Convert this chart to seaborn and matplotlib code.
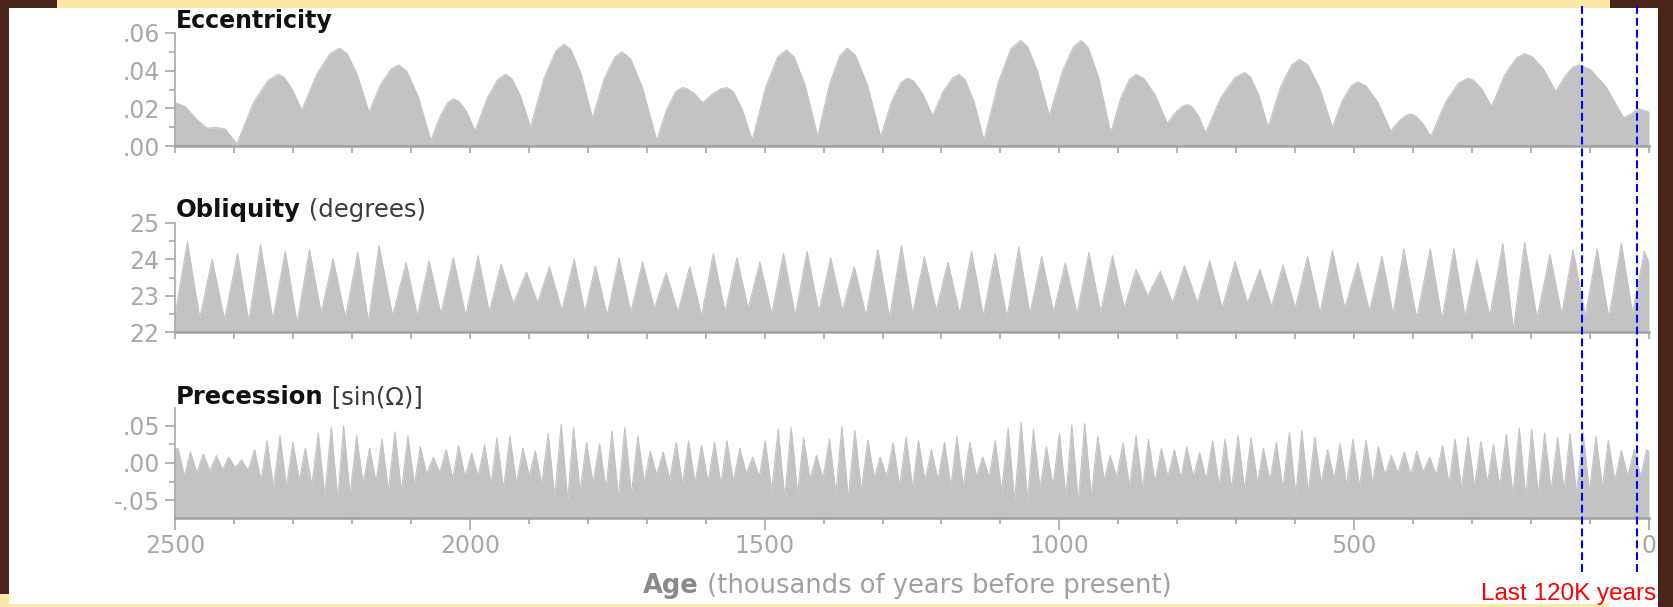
"""
Orbital cycles over the last 2.5 Myr (eccentricity, obliquity, precession)
redrawn as three stacked filled panels inside the slide frame.
"""

import matplotlib
matplotlib.use("Agg")          # no screen in the sandbox
import matplotlib.pyplot as plt
from matplotlib.patches import Rectangle
from matplotlib.ticker import MultipleLocator, FixedLocator
import pandas as pd
import seaborn as sns

# ── Canvas (pixels) ───────────────────────────────────────────────────────────
W, H, DPI = 1673, 607, 100

# ── Eccentricity (age in kyr before present, value) ──────────────────────────
ecc_age = [
    2500, 2483, 2463, 2446, 2430, 2415, 2395,
    2367, 2342, 2325, 2315, 2301, 2285,
    2259, 2237, 2221, 2208, 2191, 2171,
    2151, 2133, 2121, 2107, 2088, 2066,
    2050, 2037, 2027, 2018, 2005, 1991,
    1970, 1952, 1939, 1929, 1914, 1897,
    1874, 1854, 1840, 1828, 1811, 1792,
    1772, 1754, 1742, 1727, 1707, 1683,
    1666, 1651, 1640, 1631, 1619, 1605,
    1588, 1574, 1563, 1553, 1538, 1521,
    1498, 1478, 1463, 1450, 1431, 1410,
    1390, 1372, 1360, 1346, 1326, 1303,
    1285, 1269, 1258, 1247, 1232, 1215,
    1197, 1181, 1170, 1160, 1145, 1128,
    1103, 1082, 1066, 1054, 1037, 1017,
    995, 976, 963, 951, 933, 913,
    896, 881, 870, 857, 838, 817,
    803, 791, 783, 775, 764, 752,
    726, 702, 686, 676, 662, 646,
    625, 606, 593, 579, 559, 537,
    520, 505, 494, 480, 460, 438,
    424, 412, 404, 396, 384, 370,
    345, 323, 307, 297, 283, 267,
    245, 225, 211, 198, 179, 158,
    142, 129, 119, 100, 73, 43,
    30, 19, 10, 0,
]
ecc_val = [
    .023, .021, .014, .0095, .0098, .009, .001,
    .023, .035, .038, .0365, .030, .019,
    .0385, .049, .052, .049, .038, .018,
    .0328, .041, .043, .0398, .0266, .003,
    .016, .0232, .025, .0236, .018, .008,
    .0257, .0356, .038, .0358, .0265, .010,
    .036, .0505, .054, .0509, .038, .015,
    .0357, .0472, .050, .0462, .0307, .003,
    .0195, .0288, .031, .0304, .0277, .023,
    .0277, .0304, .031, .0288, .0195, .003,
    .0313, .0472, .051, .0473, .0321, .005,
    .0327, .0482, .052, .0482, .0327, .005,
    .0233, .0335, .036, .0344, .0278, .016,
    .029, .0362, .038, .0352, .0237, .003,
    .0343, .0518, .056, .0528, .0396, .016,
    .0396, .0528, .056, .0521, .0359, .007,
    .0253, .0355, .038, .0359, .0273, .012,
    .0179, .0212, .022, .0208, .0159, .007,
    .0259, .0364, .039, .0367, .0271, .010,
    .0312, .0431, .046, .0431, .0312, .010,
    .0242, .0321, .034, .0319, .0233, .008,
    .0133, .0163, .017, .016, .0121, .005,
    .0233, .0335, .036, .0348, .0299, .021,
    .0375, .0468, .049, .0474, .0408, .029,
    .0373, .0419, .043, .0408, .0315, .015,
    .017, .020, .019, .018,
]

# ── Obliquity (degrees): spike tops and the lows between them ────────────────
obl_peak_age = [
    2479, 2437, 2394, 2355, 2313, 2272, 2232, 2190, 2154, 2108,
    2069, 2028, 1986, 1947, 1904, 1865, 1823, 1787, 1747, 1707,
    1667, 1627, 1587, 1547, 1508, 1468, 1428, 1388, 1348, 1308,
    1268, 1229, 1189, 1149, 1109, 1069, 1030, 990, 950, 910,
    870, 829, 788, 745, 702, 660, 621, 579, 537, 494,
    453, 416, 371, 331, 292, 248, 211, 168, 129, 88,
    47, 8,
]
obl_peak = [
    24.48, 24.00, 24.16, 24.40, 24.22, 24.27, 24.02, 24.20, 24.38, 23.91,
    23.96, 24.05, 24.10, 23.87, 23.65, 23.80, 24.00, 23.82, 24.04, 23.92,
    23.63, 23.80, 24.16, 24.04, 23.92, 24.16, 24.22, 24.04, 23.80, 24.27,
    24.39, 24.07, 23.92, 24.22, 24.16, 24.33, 24.07, 23.90, 24.19, 24.10,
    23.72, 23.67, 23.83, 23.96, 23.94, 23.72, 23.85, 24.08, 24.24, 23.90,
    24.08, 24.29, 24.29, 24.29, 23.99, 24.43, 24.47, 24.13, 24.27, 24.29,
    24.45, 24.22,
]
obl_low_age = [
    2500, 2458, 2416, 2375, 2334, 2293, 2252, 2211, 2172, 2131,
    2089, 2049, 2007, 1967, 1926, 1885, 1844, 1805, 1767, 1727,
    1687, 1647, 1607, 1567, 1528, 1488, 1448, 1408, 1368, 1328,
    1288, 1249, 1209, 1169, 1129, 1089, 1050, 1010, 970, 930,
    890, 850, 808, 766, 724, 681, 640, 600, 558, 516,
    474, 434, 394, 351, 312, 270, 230, 190, 148, 108,
    68, 28, 0,
]
obl_low = [
    22.45, 22.38, 22.34, 22.29, 22.34, 22.25, 22.52, 22.40, 22.28, 22.45,
    22.45, 22.50, 22.45, 22.55, 22.78, 22.80, 22.60, 22.55, 22.45, 22.55,
    22.65, 22.55, 22.45, 22.55, 22.65, 22.50, 22.45, 22.55, 22.60, 22.45,
    22.40, 22.50, 22.60, 22.50, 22.45, 22.40, 22.50, 22.55, 22.50, 22.55,
    22.66, 23.00, 22.80, 22.80, 22.66, 22.80, 22.70, 22.66, 22.52, 22.66,
    22.57, 22.48, 22.38, 22.34, 22.43, 22.45, 22.06, 22.38, 22.48, 22.43,
    22.38, 22.52, 23.90,
]

# ── Precession index [sin(Omega)]: spike tops and notch bottoms ──────────────
prec_peak_age = [
    2495, 2474, 2452, 2430, 2409, 2387, 2365, 2344, 2322, 2300,
    2279, 2257, 2235, 2214, 2192, 2170, 2149, 2127, 2105, 2084,
    2062, 2040, 2019, 1997, 1975, 1954, 1932, 1910, 1889, 1867,
    1845, 1824, 1802, 1780, 1759, 1737, 1715, 1694, 1672, 1650,
    1629, 1607, 1585, 1564, 1542, 1520, 1499, 1477, 1455, 1434,
    1412, 1390, 1369, 1347, 1325, 1304, 1282, 1260, 1239, 1217,
    1195, 1174, 1152, 1130, 1109, 1087, 1065, 1044, 1022, 1000,
    979, 957, 935, 914, 892, 870, 849, 827, 805, 784,
    762, 740, 719, 697, 675, 654, 632, 610, 589, 567,
    545, 524, 502, 480, 459, 437, 415, 394, 372, 350,
    329, 307, 285, 264, 242, 220, 199, 177, 155, 134,
    112, 90, 69, 47, 25, 4,
]
prec_peak = [
    .020, .015, .012, .010, .008, .004, .018, .030, .036, .028,
    .020, .040, .048, .050, .037, .020, .032, .042, .036, .022,
    .008, .018, .023, .013, .024, .034, .036, .020, .016, .040,
    .052, .048, .028, .026, .043, .048, .036, .016, .015, .028,
    .030, .024, .028, .030, .020, .008, .030, .046, .048, .034,
    .010, .032, .049, .044, .031, .008, .027, .035, .030, .018,
    .028, .036, .028, .008, .030, .047, .055, .045, .022, .040,
    .051, .053, .036, .010, .027, .037, .032, .020, .018, .022,
    .014, .030, .032, .037, .034, .020, .028, .041, .044, .035,
    .018, .026, .032, .031, .022, .010, .015, .016, .008, .023,
    .032, .035, .029, .025, .039, .047, .046, .040, .034, .040,
    .041, .036, .030, .017, .018, .018,
]
prec_low_age = [
    2500, 2484, 2463, 2441, 2419, 2398, 2376, 2354, 2333, 2311, 2289,
    2268, 2246, 2224, 2203, 2181, 2159, 2138, 2116, 2094, 2073,
    2051, 2029, 2008, 1986, 1964, 1943, 1921, 1899, 1878, 1856,
    1834, 1813, 1791, 1769, 1748, 1726, 1704, 1683, 1661, 1639,
    1618, 1596, 1574, 1553, 1531, 1509, 1488, 1466, 1444, 1423,
    1401, 1379, 1358, 1336, 1314, 1293, 1271, 1249, 1228, 1206,
    1184, 1163, 1141, 1119, 1098, 1076, 1054, 1033, 1011, 989,
    968, 946, 924, 903, 881, 859, 838, 816, 794, 773,
    751, 729, 708, 686, 664, 643, 621, 599, 578, 556,
    534, 513, 491, 469, 448, 426, 404, 383, 361, 339,
    318, 296, 274, 253, 231, 209, 188, 166, 144, 123,
    101, 79, 58, 36, 14, 0,
]
prec_low = [
    .018, -.018, -.013, -.011, -.009, -.006, -.010, -.024, -.033, -.032, -.024,
    -.030, -.044, -.049, -.044, -.028, -.026, -.037, -.039, -.029, -.015,
    -.013, -.021, -.018, -.018, -.029, -.035, -.028, -.018, -.028, -.046,
    -.050, -.038, -.027, -.035, -.046, -.042, -.026, -.016, -.022, -.029,
    -.027, -.026, -.029, -.025, -.014, -.019, -.038, -.047, -.041, -.022,
    -.021, -.041, -.047, -.038, -.020, -.018, -.031, -.033, -.024, -.023,
    -.032, -.032, -.018, -.019, -.039, -.051, -.050, -.034, -.031, -.046,
    -.052, -.045, -.023, -.019, -.032, -.035, -.026, -.019, -.020, -.018,
    -.022, -.031, -.035, -.036, -.027, -.024, -.035, -.043, -.040, -.027,
    -.022, -.029, -.032, -.027, -.016, -.013, -.016, -.012, -.016, -.028,
    -.034, -.032, -.027, -.032, -.043, -.047, -.043, -.037, -.037, -.041,
    -.039, -.033, -.024, -.018, -.018, .015,
]

# ── Axis ticks / labels ───────────────────────────────────────────────────────
ecc_ticks, ecc_labels = [0.0, 0.02, 0.04, 0.06], [".00", ".02", ".04", ".06"]
obl_ticks, obl_labels = [22, 23, 24, 25], ["22", "23", "24", "25"]
prec_ticks, prec_labels = [-0.05, 0.0, 0.05], ["-.05", ".00", ".05"]
marker_ages = [114, 20]          # the two dashed "last 120K years" guides

# ── Colours ───────────────────────────────────────────────────────────────────
FILL = "#c3c3c3"
AXIS = "#a0a0a0"
TICK_TXT = "#a8a8a8"
BROWN = "#4b2519"
YELLOW = "#fbe7a8"

sns.set_theme(style="ticks")
plt.rcParams["font.family"] = ["DejaVu Sans"]

fig = plt.figure(figsize=(W / DPI, H / DPI), dpi=DPI, facecolor="white")


def frame_box(x0, y0, x1, y1, color):
    """Rectangle in pixel coords measured from the top-left corner."""
    fig.add_artist(Rectangle((x0 / W, 1 - y1 / H), (x1 - x0) / W, (y1 - y0) / H,
                             transform=fig.transFigure, facecolor=color,
                             edgecolor="none", zorder=2))


def two_part(x, y, bold, rest, size, c_bold, c_rest, center=False):
    """Bold word followed by regular text on one baseline (pixels from top)."""
    t1 = fig.text(0, 1 - y / H, bold, fontsize=size, fontweight="bold",
                  color=c_bold, va="baseline")
    t2 = fig.text(0, 1 - y / H, rest, fontsize=size, color=c_rest, va="baseline")
    r = fig.canvas.get_renderer()
    w1 = t1.get_window_extent(r).width
    w2 = t2.get_window_extent(r).width
    x0 = x - (w1 + w2) / 2 if center else x
    t1.set_x(x0 / W)
    t2.set_x((x0 + w1) / W)


def panel(top, bottom, ages, vals, ylim, ticks, labels, minor, bottom_axis=False):
    ax = fig.add_axes([175 / W, 1 - bottom / H, 1474 / W, (bottom - top) / H])
    df = pd.DataFrame({"age": ages, "val": vals}).sort_values("age")
    sns.lineplot(data=df, x="age", y="val", ax=ax, color=FILL,
                 linewidth=0.8, estimator=None)
    ax.fill_between(df["age"], ylim[0], df["val"], color=FILL, linewidth=0)
    ax.set_xlim(2500, 0)
    ax.set_ylim(*ylim)
    ax.set_xlabel("")
    ax.set_ylabel("")

    ax.spines[["top", "right"]].set_visible(False)
    ax.spines["left"].set_color(AXIS)
    ax.spines["left"].set_linewidth(1.1)
    ax.spines["bottom"].set_color(AXIS)
    ax.spines["bottom"].set_linewidth(1.8)

    ax.yaxis.set_major_locator(FixedLocator(ticks))
    ax.set_yticklabels(labels)
    ax.yaxis.set_minor_locator(MultipleLocator(minor))
    ax.tick_params(axis="y", which="major", length=7, width=1.1, color=AXIS,
                   labelsize=17, labelcolor=TICK_TXT, pad=4)
    ax.tick_params(axis="y", which="minor", length=4.5, width=1.1, color=AXIS)

    ax.xaxis.set_major_locator(MultipleLocator(500))
    ax.xaxis.set_minor_locator(MultipleLocator(100))
    if bottom_axis:
        ax.tick_params(axis="x", which="major", length=8.5, width=1.1, color=AXIS,
                       labelsize=17, labelcolor=TICK_TXT, pad=3)
        ax.tick_params(axis="x", which="minor", length=4.3, width=1.1, color=AXIS)
    else:
        ax.tick_params(axis="x", which="both", length=5, width=1.1, color=AXIS,
                       labelbottom=False)
    return ax


# ── Three panels ──────────────────────────────────────────────────────────────
panel(33, 146, ecc_age, ecc_val, (0, 0.06), ecc_ticks, ecc_labels, 0.01)
panel(223, 332, obl_peak_age + obl_low_age, obl_peak + obl_low, (22, 25),
      obl_ticks, obl_labels, 0.5)
panel(408, 518, prec_peak_age + prec_low_age, prec_peak + prec_low,
      (-0.074, 0.074), prec_ticks, prec_labels, 0.025, bottom_axis=True)

# ── Panel titles and axis label ───────────────────────────────────────────────
fig.text(176 / W, 1 - 28 / H, "Eccentricity", fontsize=17, fontweight="bold",
         color="#111111", va="baseline")
two_part(176, 217, "Obliquity", " (degrees)", 17.5, "#111111", "#3c3c3c")
two_part(176, 404, "Precession", " [sin(\u03a9)]", 17.5, "#111111", "#3c3c3c")
two_part(907, 593, "Age", " (thousands of years before present)", 18.5,
         "#8a8a8a", "#a0a0a0", center=True)

# ── Slide frame ───────────────────────────────────────────────────────────────
frame_box(0, 0, 9, 594, BROWN)
frame_box(0, 594, 9, 607, YELLOW)
frame_box(0, 0, 57, 8, BROWN)
frame_box(57, 0, 1610, 8, YELLOW)
frame_box(1610, 0, 1673, 8, BROWN)
frame_box(1658, 0, 1673, 607, BROWN)
frame_box(9, 604, 1609, 607, YELLOW)

# ── Dashed guides for the last 120K years ─────────────────────────────────────
ax_over = fig.add_axes([175 / W, 1 - 572 / H, 1474 / W, (572 - 3) / H], zorder=5)
ax_over.set_xlim(2500, 0)
ax_over.set_ylim(0, 1)
ax_over.axis("off")
for a in marker_ages:
    ax_over.axvline(a, color="#0000ff", linewidth=1.5, linestyle=(0, (3.8, 1.9)))

fig.text(1656 / W, 1 - 600 / H, "Last 120K years", color="#ff0000", fontsize=17.5,
         family=["Liberation Sans", "DejaVu Sans"], ha="right", va="baseline",
         zorder=6)

fig.savefig("out.png", dpi=DPI)
plt.close(fig)
